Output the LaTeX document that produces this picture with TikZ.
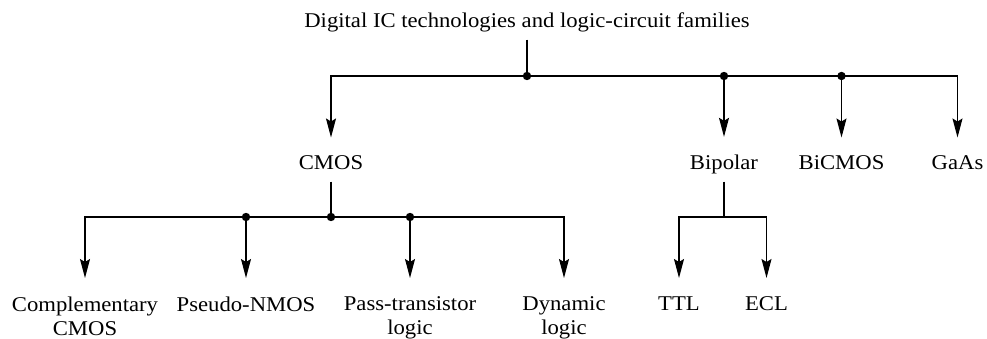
\documentclass[tikz,border=0pt]{standalone}
\usepackage{fontspec}
\setmainfont{Liberation Serif}[FakeStretch=1.08]
\usetikzlibrary{arrows.meta,positioning,calc}

\begin{document}
\begin{tikzpicture}[x=1pt, y=-1pt, font=\fontsize{21}{24}\selectfont, line width=1.2pt,
  lbl/.style={inner xsep=2pt, inner ysep=6pt, align=center},
  fam/.style={lbl, anchor=base, text depth=5pt},
  arr/.style={-{Stealth[length=19pt,width=10pt,inset=3pt]}, shorten >=12pt}]
\useasboundingbox (0,0) rectangle (987,339);

% families
\node[fam] (root) at (527,28) {Digital IC technologies and logic-circuit families};
\node[fam] (cmos) at (331,170) {CMOS};
\node[fam] (bipolar) at (724,170) {Bipolar};
\node[fam] (bicmos) at (841.5,170) {BiCMOS};
\node[fam] (gaas) at (957.5,170) {GaAs};

% circuit styles
\node[lbl, anchor=north] (compl) at (85,290) {Complementary\\CMOS};
\node[lbl, anchor=north] (pseudo) at (246,290) {Pseudo-NMOS};
\node[lbl, anchor=north] (pass) at (410,290) {Pass-transistor\\logic};
\node[lbl, anchor=north] (dyn) at (564,290) {Dynamic\\logic};
\node[lbl, anchor=north] (ttl) at (679,290) {TTL};
\node[lbl, anchor=north] (ecl) at (766.5,290) {ECL};

% junctions
\coordinate (j0) at (527,76);
\coordinate (jbip) at (724,76);
\coordinate (jbic) at (841.5,76);
\coordinate (jc) at (331,217);
\coordinate (jp) at (246,217);
\coordinate (jt) at (410,217);
\coordinate (jb) at (724,217);

\draw (root) -- (j0);
\draw[arr] (j0) -| (cmos);
\draw[arr] (j0) -| (gaas);
\draw[arr] (jbip) -- (bipolar);
\draw[arr] (jbic) -- (bicmos);

\draw (cmos) -- (jc);
\draw[arr] (jc) -| (compl);
\draw[arr] (jc) -| (dyn);
\draw[arr] (jp) -- (pseudo);
\draw[arr] (jt) -- (pass);

\draw (bipolar) -- (jb);
\draw[arr] (jb) -| (ttl);
\draw[arr] (jb) -| (ecl);

\foreach \j in {j0,jbip,jbic,jc,jp,jt}
  \fill (\j) circle (4.2);
\end{tikzpicture}
\end{document}
